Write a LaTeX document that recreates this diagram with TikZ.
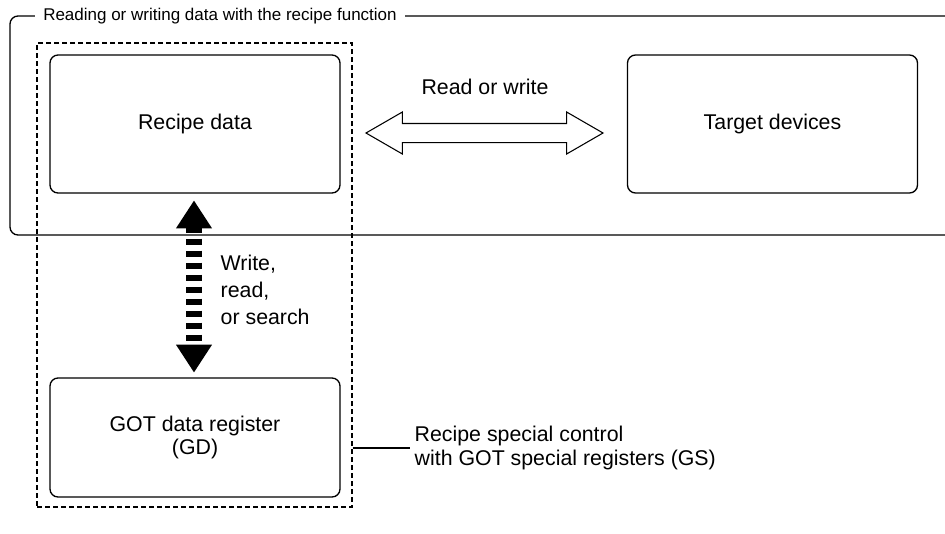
\documentclass[tikz,border=0pt]{standalone}
\usepackage{fontspec}
\setmainfont{Liberation Sans}
\usetikzlibrary{arrows.meta, positioning, shapes.arrows}

\begin{document}
\begin{tikzpicture}[
    x=0.75pt, y=-0.75pt,
    font=\fontsize{16}{17.5}\selectfont,
    databox/.style={draw, line width=1pt, rounded corners=6pt, rectangle, minimum width=217.5pt, align=center},
    rwarrow/.style={draw, line width=0.8pt, double arrow, inner xsep=0pt, inner ysep=6.75pt, minimum height=177.75pt, double arrow head extend=8.6pt, double arrow tip angle=60},
    gdframe/.style={draw, line width=1.1pt, dash pattern=on 3.5pt off 2.5pt, rectangle, minimum width=236.25pt, minimum height=348pt},
    note/.style={align=left, anchor=west},
    accarr/.style={line width=12pt, dash pattern=on 4.5pt off 4.5pt, {Triangle[width=25.5pt, length=21pt]}-{Triangle[width=25.5pt, length=21pt]}}
]
\useasboundingbox (0,0) rectangle (945,533);

\draw[line width=1pt, rounded corners=6pt] (945,16) -- (10,16) -- (10,235) -- (945,235);
\node[fill=white, anchor=west, inner xsep=6pt, font=\fontsize{12.75}{15}\selectfont] (title) at (35,16) {Reading or writing data with the recipe function};

\node[gdframe] (gdf) at (194.5,275) {};

\node[databox, minimum height=103.5pt] (recipe) at (195,124) {Recipe data};
\node[databox, minimum height=103.5pt] (target) at (772.5,124) {Target devices};
\node[databox, minimum height=89.25pt] (gd) at (195,437.5) {GOT data register\\(GD)};

\node[rwarrow] (rw) at (484.5,133) {};
\node (rwlabel) at (485,87) {Read or write};

\draw[accarr, shorten <=5pt, shorten >=3.5pt] ([xshift=-0.75pt]recipe.south) -- ([xshift=-0.75pt]gd.north);
\node[note, font=\fontsize{16}{20.25}\selectfont] (wrs) at (216,290) {Write,\\read,\\or search};

\node[note] (gs) at (410,448) {Recipe special control\\with GOT special registers (GS)};
\draw[line width=0.8pt] (gdf.east |- gs.west) -- (gs.west);

\end{tikzpicture}
\end{document}
